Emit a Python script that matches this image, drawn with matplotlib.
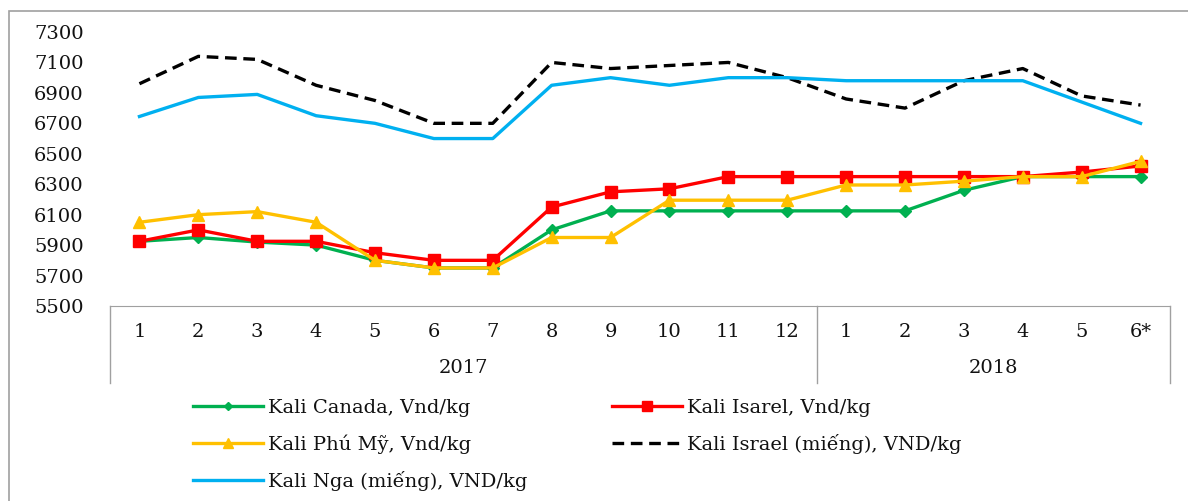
import matplotlib.pyplot as plt
from matplotlib.patches import Rectangle
import matplotlib.transforms as mtransforms

# wide serif to mimic the stretched Times look of the original
plt.rcParams['font.family'] = ['DejaVu Serif', 'Liberation Serif']

# data
months = ["1", "2", "3", "4", "5", "6", "7", "8", "9", "10", "11", "12",
          "1", "2", "3", "4", "5", "6*"]
years = ["2017", "2018"]
year_len = [12, 6]

canada = [5925, 5950, 5920, 5900, 5800, 5750, 5750, 6000, 6125, 6125, 6125, 6125,
          6125, 6125, 6260, 6350, 6350, 6350]
isarel = [5925, 6000, 5925, 5925, 5850, 5800, 5800, 6150, 6250, 6270, 6350, 6350,
          6350, 6350, 6350, 6350, 6380, 6420]
phumy = [6050, 6100, 6120, 6050, 5800, 5750, 5750, 5950, 5950, 6195, 6195, 6195,
         6295, 6295, 6320, 6350, 6350, 6450]
israel_mieng = [6960, 7140, 7120, 6950, 6850, 6700, 6700, 7100, 7060, 7080, 7100, 7000,
                6860, 6800, 6980, 7060, 6880, 6820]
nga_mieng = [6745, 6870, 6890, 6750, 6700, 6600, 6600, 6950, 7000, 6950, 7000, 7000,
             6980, 6980, 6980, 6980, 6840, 6700]

W, H = 1188, 501
FS = 14
fig = plt.figure(figsize=(W / 100, H / 100), dpi=100)

# outer frame
fig.patches.append(Rectangle((9 / W, -0.05), 1.2, 1 - 11 / H + 0.05, transform=fig.transFigure,
                             fill=False, edgecolor="#a0a0a0", lw=1.2))

ax = fig.add_axes([110 / W, 1 - 306 / H, (1170 - 110) / W, (306 - 32) / H])
x = list(range(len(months)))

l1, = ax.plot(x, canada, color="#00B050", lw=2.4, marker="D", ms=6, label="Kali Canada, Vnd/kg")
l2, = ax.plot(x, isarel, color="#FF0000", lw=2.4, marker="s", ms=9, label="Kali Isarel, Vnd/kg")
l3, = ax.plot(x, phumy, color="#FFC000", lw=2.4, marker="^", ms=9, label="Kali Phú Mỹ, Vnd/kg")
l4, = ax.plot(x, israel_mieng, color="black", lw=2.4, ls=(0, (3.5, 2)), label="Kali Israel (miếng), VND/kg")
l5, = ax.plot(x, nga_mieng, color="#00B0F0", lw=2.4, label="Kali Nga (miếng), VND/kg")

ax.set_xlim(-0.5, len(months) - 0.5)
ax.set_ylim(5500, 7300)
ax.set_yticks(range(5500, 7301, 200))
ax.set_xticks(x)
ax.set_xticklabels(months)
ax.tick_params(axis="both", length=0, labelsize=FS, labelcolor="#111111")
ax.tick_params(axis="y", pad=19)
ax.tick_params(axis="x", pad=12)
for s in ["left", "right", "top"]:
    ax.spines[s].set_visible(False)
ax.spines["bottom"].set_color("#a0a0a0")

# category box lines and year labels
trans = mtransforms.blended_transform_factory(ax.transData, ax.transAxes)
bottom = -77 / 274
start = -0.5
bounds = [start]
for yr, n in zip(years, year_len):
    ax.text(start + n / 2, -62 / 274, yr, transform=trans, ha="center", va="center",
            fontsize=FS, color="#111111")
    start += n
    bounds.append(start)
for b in bounds:
    ax.plot([b, b], [0, bottom], transform=trans, color="#a0a0a0", lw=1, clip_on=False)

# legend in two pinned columns
opts = dict(loc="upper left", frameon=False, fontsize=FS, handlelength=3.6, handletextpad=0.25,
            labelspacing=0.88, borderpad=0, borderaxespad=0, markerscale=0.75)
leg1 = fig.legend(handles=[l1, l3, l5], bbox_to_anchor=(193 / W, 1 - 399 / H), **opts)
leg2 = fig.legend(handles=[l2, l4], bbox_to_anchor=(612 / W, 1 - 399 / H), **opts)
for lg in (leg1, leg2):
    for t in lg.get_texts():
        t.set_color("#111111")

fig.savefig("out.png", dpi=100)
